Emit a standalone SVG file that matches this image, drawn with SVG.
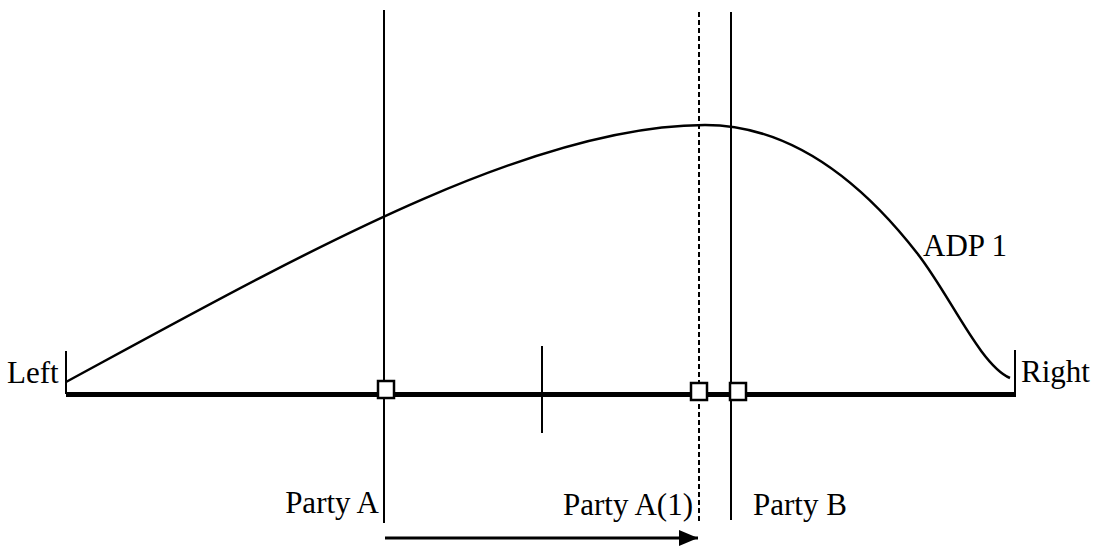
<svg xmlns="http://www.w3.org/2000/svg" width="1095" height="552" viewBox="0 0 1095 552">
<style>
  .ln{stroke:#000;stroke-width:2;fill:none}
  .dash{stroke:#000;stroke-width:2;fill:none;stroke-dasharray:5,3}
  .curve{stroke:#000;stroke-width:2.5;fill:none}
  .axis{stroke:#000;stroke-width:5;fill:none}
  .arrow{stroke:#000;stroke-width:3;fill:none}
  .sq{fill:#fff;stroke:#000;stroke-width:2.5}
  .lbl{font-family:"Liberation Serif","Times New Roman",serif;font-size:31px;fill:#000}
</style>
<defs>
  <marker id="ah" markerUnits="userSpaceOnUse" markerWidth="20" markerHeight="18" refX="19" refY="8" orient="auto">
    <path d="M0,0 L19,8 L0,16 Z" fill="#000"/>
  </marker>
</defs>
<rect width="1095" height="552" fill="#fff"/>
<g id="axis">
  <line class="axis" x1="66" y1="394.5" x2="1016" y2="394.5"/>
  <line class="ln" x1="66" y1="351" x2="66" y2="394"/>
  <line class="ln" x1="1015" y1="350" x2="1015" y2="394"/>
  <line class="ln" x1="542" y1="346" x2="542" y2="433"/>
</g>
<g id="curve-adp1">
  <path class="curve" d="M66,382 C300,255 530,125 705,125 C790,125 860,180 917,253 C950,295 980,365 1010,378"/>
  <text class="lbl" x="923" y="256">ADP 1</text>
</g>
<g id="party-a">
  <line class="ln" x1="384" y1="10" x2="384" y2="523"/>
  <rect class="sq" x="378" y="381" width="16" height="17"/>
  <text class="lbl" x="379" y="513" text-anchor="end">Party A</text>
</g>
<g id="party-a1">
  <line class="dash" x1="699" y1="12" x2="699" y2="522"/>
  <rect class="sq" x="691" y="383" width="16" height="17"/>
  <text class="lbl" x="693" y="515" text-anchor="end">Party A(1)</text>
</g>
<g id="party-b">
  <line class="ln" x1="731" y1="12" x2="731" y2="520"/>
  <rect class="sq" x="730" y="383" width="16" height="17"/>
  <text class="lbl" x="753" y="515">Party B</text>
</g>
<g id="left">
  <text class="lbl" x="7" y="383">Left</text>
</g>
<g id="right">
  <text class="lbl" x="1021" y="382">Right</text>
</g>
<g id="connectors">
  <line class="arrow" x1="385" y1="538" x2="698" y2="538" marker-end="url(#ah)"/>
</g>
</svg>
